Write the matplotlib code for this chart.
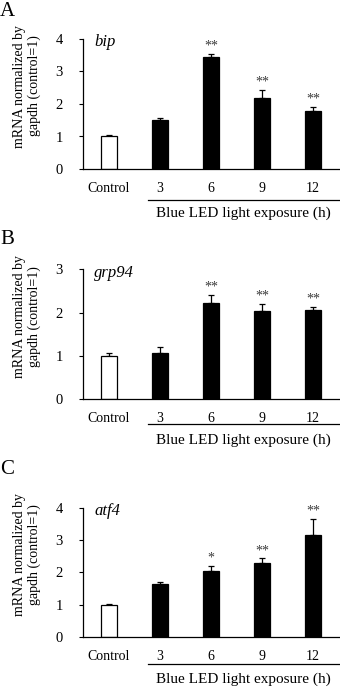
import numpy as np
import matplotlib
matplotlib.use("Agg")
import matplotlib.pyplot as plt
from matplotlib.lines import Line2D

plt.rcParams['font.family'] = ['Liberation Serif', 'DejaVu Serif']

categories = ['Control', '3', '6', '9', '12']

bip_mean = [1.00, 1.50, 3.44, 2.17, 1.77]
bip_err = [0.05, 0.07, 0.09, 0.25, 0.13]
bip_sig = ['', '', '**', '**', '**']

grp94_mean = [1.00, 1.06, 2.22, 2.04, 2.05]
grp94_err = [0.07, 0.14, 0.18, 0.15, 0.07]
grp94_sig = ['', '', '**', '**', '**']

atf4_mean = [1.00, 1.63, 2.03, 2.28, 3.14]
atf4_err = [0.02, 0.06, 0.16, 0.15, 0.50]
atf4_sig = ['', '', '*', '**', '**']

panels = [
    # letter, gene, mean, err, sig, ymax, axes top px, axes bottom px, letter y px, underline px, xlabel px
    ('A', 'bip', bip_mean, bip_err, bip_sig, 4, 39.0, 169.0, 11, 200, 213),
    ('B', 'grp94', grp94_mean, grp94_err, grp94_sig, 3, 269.3, 399.3, 240, 424, 440),
    ('C', 'atf4', atf4_mean, atf4_err, atf4_sig, 4, 507.7, 637.0, 469, 664, 679),
]

W, H = 340, 687
fig = plt.figure(figsize=(W / 100, H / 100), dpi=100)

ax_left, ax_right = 82.5, 339.0

for letter, gene, mean, err, sig, ymax, top, bottom, ly, uy, xly in panels:
    ax = fig.add_axes([ax_left / W, 1 - bottom / H, (ax_right - ax_left) / W, (bottom - top) / H])
    x = np.arange(len(categories))
    colors = ['white'] + ['black'] * (len(categories) - 1)
    ax.bar(x, mean, width=0.31, color=colors, edgecolor='black', linewidth=0.9, zorder=2)
    ax.errorbar(x, mean, yerr=[np.zeros(len(err)), err], fmt='none', ecolor='black',
                elinewidth=0.9, capsize=2.3, capthick=0.9, zorder=1)
    for xi, m, e, s in zip(x, mean, err, sig):
        if s:
            ax.annotate(s, xy=(xi, m + e), xytext=(0, 1), textcoords='offset points',
                        ha='center', va='bottom', fontsize=10, color='#3a3a3a')

    ax.set_xlim(-0.52, 4.51)
    ax.set_ylim(0, ymax)
    ax.set_yticks(range(ymax + 1))
    ax.set_xticks(x)
    ax.set_xticklabels(categories, fontsize=10)
    ax.tick_params(axis='y', direction='out', length=3, width=0.8, pad=11, labelsize=10.5)
    ax.tick_params(axis='x', length=0, pad=9)
    ax.spines['top'].set_visible(False)
    ax.spines['right'].set_visible(False)
    ax.spines['left'].set_linewidth(0.9)
    ax.spines['bottom'].set_linewidth(0.9)

    ax.text(0.045, 0.975, gene, transform=ax.transAxes, style='italic',
            fontsize=12, ha='left', va='center')

    # panel letter
    fig.text(0.0, 1 - ly / H, letter, fontsize=15, ha='left', va='center')

    # y label (two lines)
    fig.text(27 / W, 1 - (top + 47) / H, 'mRNA normalized by\ngapdh (control=1)',
             rotation=90, fontsize=10, ha='center', va='center', linespacing=1.15)

    # group underline and label
    fig.add_artist(Line2D([148 / W, 1.0], [1 - uy / H, 1 - uy / H], color='black', linewidth=0.9))
    fig.text(243 / W, 1 - xly / H, 'Blue LED light exposure (h)', fontsize=11,
             ha='center', va='center')

fig.savefig('out.png', dpi=100)
